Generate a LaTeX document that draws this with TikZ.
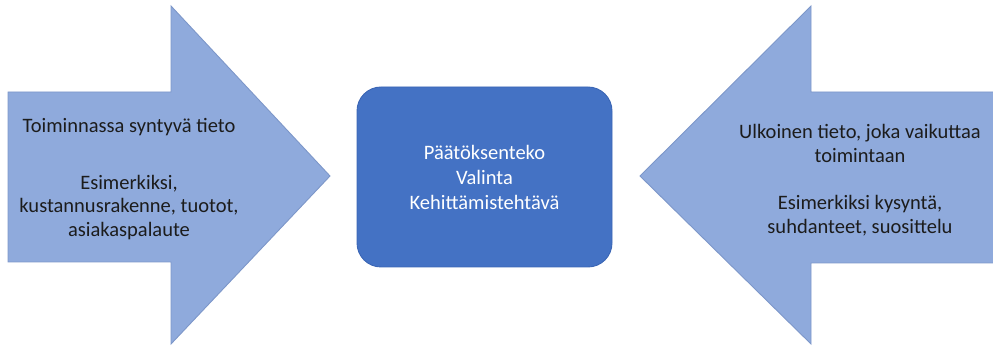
\documentclass[tikz,border=0pt]{standalone}
\usepackage{fontspec}
\setmainfont{Carlito}
\usepackage{xcolor}
\usepackage{tikz}
\usetikzlibrary{positioning}
\definecolor{arrowfill}{HTML}{8FAADC}
\definecolor{arrowline}{HTML}{7D97C9}
\definecolor{boxfill}{HTML}{4472C4}
\definecolor{boxline}{HTML}{3B66B5}
\definecolor{textdark}{HTML}{1C1C1C}
\tikzset{
	bigarrow/.style={fill=arrowfill,draw=arrowline,line width=0.9pt,line join=miter},
	arrowtext/.style={align=center,text=textdark,font=\fontsize{20.5}{23.5}\selectfont},
	decisionbox/.style={fill=boxfill,draw=boxline,line width=0.9pt,rounded corners=24pt,
		minimum width=255pt,minimum height=180pt,align=center,text=white,
		font=\fontsize{20.5}{25}\selectfont}
}

\begin{document}
\begin{tikzpicture}[x=1pt,y=-1pt]
		\useasboundingbox (0,0) rectangle (993,347);
		% vasen nuoli
		\coordinate (L1) at (8,92);
		\coordinate (L2) at (171,92);
		\coordinate (L3) at (171,6);
		\coordinate (Ltip) at (330,176);
		\coordinate (L4) at (171,344);
		\coordinate (L5) at (171,262);
		\coordinate (L6) at (8,262);
		\draw[bigarrow] (L1) -- (L2) -- (L3) -- (Ltip) -- (L4) -- (L5) -- (L6) -- cycle;
		% oikea nuoli
		\coordinate (R1) at (997,92);
		\coordinate (R2) at (811,92);
		\coordinate (R3) at (811,6);
		\coordinate (Rtip) at (640,176);
		\coordinate (R4) at (811,344);
		\coordinate (R5) at (811,263);
		\coordinate (R6) at (997,263);
		\draw[bigarrow] (R1) -- (R2) -- (R3) -- (Rtip) -- (R4) -- (R5) -- (R6) -- cycle;
		%
		\node[decisionbox] (D) at (484.5,177) {Päätöksenteko\\Valinta\\Kehittämistehtävä};
		\node[arrowtext] (LT) at (129,179) {Toiminnassa syntyvä tieto\\[33pt]Esimerkiksi,\\kustannusrakenne, tuotot,\\asiakaspalaute};
		\node[arrowtext] (RT) at (860,180) {Ulkoinen tieto, joka vaikuttaa\\toimintaan\\[24pt]Esimerkiksi kysyntä,\\suhdanteet, suosittelu};
\end{tikzpicture}
\end{document}
